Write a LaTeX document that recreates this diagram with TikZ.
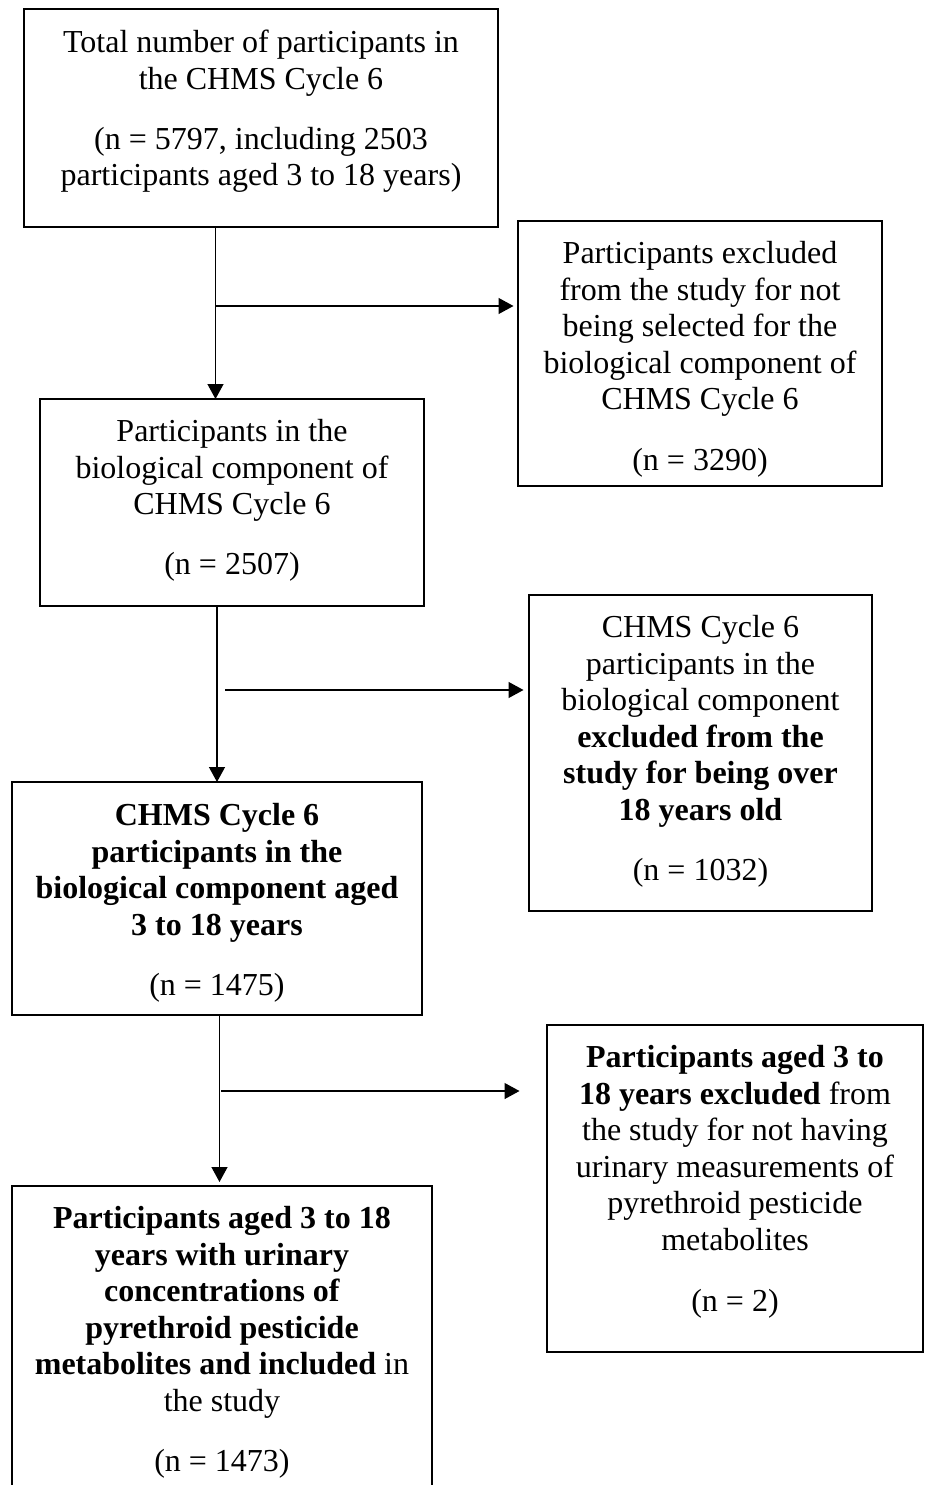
\documentclass[tikz,border=0pt]{standalone}
\usepackage{fontspec}
\setmainfont{Liberation Serif}
\usetikzlibrary{arrows.meta}
\begin{document}
\begin{tikzpicture}[x=1pt,y=-1pt,
  box/.style={draw, line width=2.2pt, inner sep=0pt, outer sep=0pt, anchor=north west},
  txt/.style={anchor=north, inner sep=0pt, align=center, font=\fontsize{32}{36.6}\selectfont},
  arr/.style={line width=1.3pt, -{Triangle[length=15pt,width=16pt]}}]
\clip (0,0) rectangle (930,1485);
\fill[white] (0,0) rectangle (930,1485);
% boxes
\node[box, minimum width=474pt, minimum height=218pt] (b1) at (24,9) {};
\node[box, minimum width=364pt, minimum height=265pt] (b2) at (518,221) {};
\node[box, minimum width=384pt, minimum height=207pt] (b3) at (40,399) {};
\node[box, minimum width=343pt, minimum height=316pt] (b4) at (529,595) {};
\node[box, minimum width=410pt, minimum height=233pt] (b5) at (12,782) {};
\node[box, minimum width=376pt, minimum height=327pt] (b6) at (547,1025) {};
\node[box, minimum width=420pt, minimum height=310pt] (b7) at (12,1186) {};
% texts
\node[txt] (t1) at ([yshift=-21pt]b1.north) {Total number of participants in\\ the CHMS Cycle 6\\[23.4pt] (n = 5797, including 2503\\ participants aged 3 to 18 years)};
\node[txt] (t2) at ([yshift=-20pt]b2.north) {Participants excluded\\ from the study for not\\ being selected for the\\ biological component of\\ CHMS Cycle 6\\[24pt] (n = 3290)};
\node[txt] (t3) at ([yshift=-20pt]b3.north) {Participants in the\\ biological component of\\ CHMS Cycle 6\\[23.4pt] (n = 2507)};
\node[txt] (t4) at ([yshift=-20pt]b4.north) {CHMS Cycle 6\\ participants in the\\ biological component\\ \textbf{excluded from the}\\ \textbf{study for being over}\\ \textbf{18 years old}\\[23.4pt] (n = 1032)};
\node[txt] (t5) at ([yshift=-21pt]b5.north) {\textbf{CHMS Cycle 6}\\ \textbf{participants in the}\\ \textbf{biological component aged}\\ \textbf{3 to 18 years}\\[23.4pt] (n = 1475)};
\node[txt] (t6) at ([yshift=-20pt]b6.north) {\textbf{Participants aged 3 to}\\ \textbf{18 years excluded} from\\ the study for not having\\ urinary measurements of\\ pyrethroid pesticide\\ metabolites\\[24pt] (n = 2)};
\node[txt] (t7) at ([yshift=-20pt]b7.north) {\textbf{Participants aged 3 to 18}\\ \textbf{years with urinary}\\ \textbf{concentrations of}\\ \textbf{pyrethroid pesticide}\\ \textbf{metabolites and included} in\\ the study\\[23.4pt] (n = 1473)};
% connector coordinates
\coordinate (v1) at (215.5,0);
\coordinate (v2) at (217,0);
\coordinate (v3) at (219.5,0);
\coordinate (h1s) at (216,306);
\coordinate (h1e) at (513.5,306);
\coordinate (h2s) at (225,690);
\coordinate (h2e) at (523.5,690);
\coordinate (h3s) at (221,1091);
\coordinate (h3e) at (519.5,1091);
% connectors
\draw[arr] (b1.south -| v1) -- (b3.north -| v1);
\draw[arr] (h1s) -- (h1e);
\draw[arr] (b3.south -| v2) -- (b5.north -| v2);
\draw[arr] (h2s) -- (h2e);
\draw[arr] (b5.south -| v3) -- ([yshift=4pt]b7.north -| v3);
\draw[arr] (h3s) -- (h3e);
\end{tikzpicture}
\end{document}
